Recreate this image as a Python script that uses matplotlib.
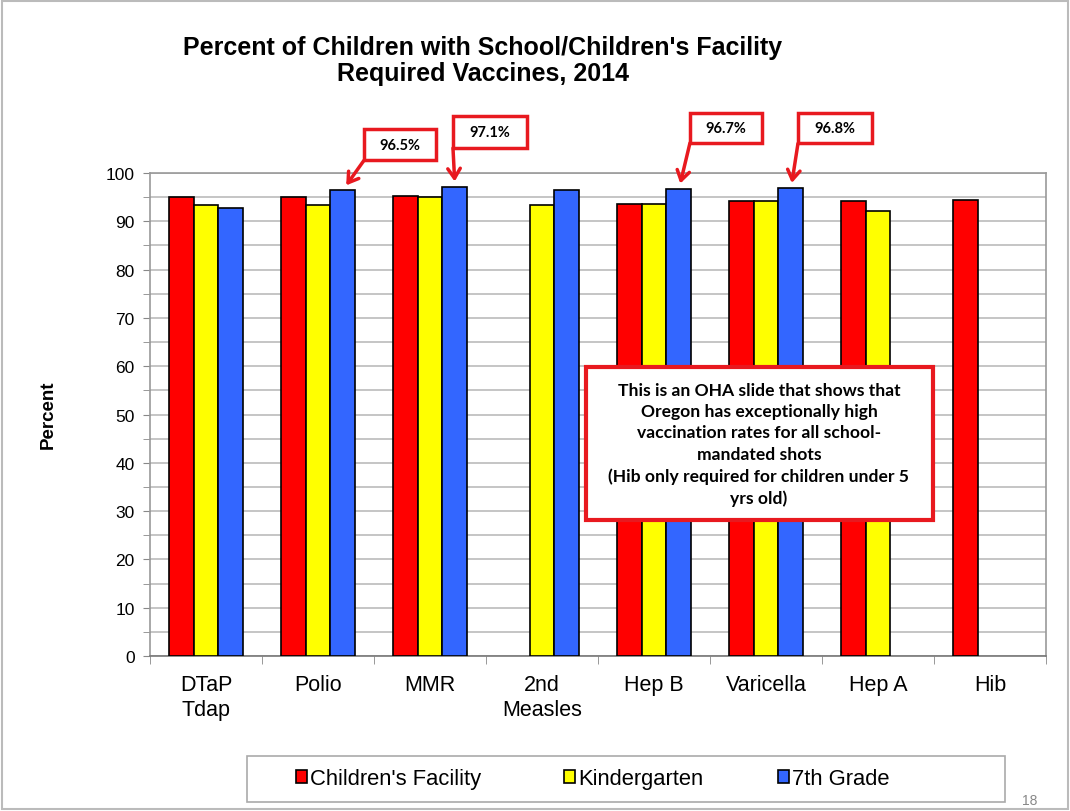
import numpy as np
import matplotlib.pyplot as plt
from matplotlib.patches import Rectangle

plt.rcParams['font.family'] = ['Liberation Sans', 'DejaVu Sans']

# data
categories = ['DTaP\nTdap', 'Polio', 'MMR', '2nd\nMeasles', 'Hep B', 'Varicella', 'Hep A', 'Hib']
series_names = ["Children's Facility", 'Kindergarten', '7th Grade']
childrens_facility = [95.0, 95.0, 95.2, np.nan, 93.6, 94.2, 94.2, 94.5]
kindergarten = [93.3, 93.3, 95.0, 93.3, 93.6, 94.3, 92.1, np.nan]
seventh_grade = [92.7, 96.5, 97.1, 96.5, 96.7, 96.8, np.nan, np.nan]
colors = ['#FF0000', '#FFFF00', '#3366FF']

# callouts: (category index, box offset px from bar top, box size px)
callouts = [(1, (57, 45), (72, 31)),
            (2, (35, 55), (74, 32)),
            (4, (47, 61), (72, 30)),
            (5, (44, 60), (74, 30))]

note = ("This is an OHA slide that shows that\nOregon has exceptionally high\n"
        "vaccination rates for all school-\nmandated shots\n"
        "(Hib only required for children under 5\nyrs old)")

W, H = 1070, 812
fig = plt.figure(figsize=(W / 100, H / 100), dpi=100)
ax = fig.add_axes([150 / W, 1 - 657 / H, 896 / W, 483 / H])

x = np.arange(len(categories))
bw = 0.223
all_series = [childrens_facility, kindergarten, seventh_grade]
bars = []
for i, vals in enumerate(all_series):
    b = ax.bar(x + (i - 1) * bw, vals, bw, color=colors[i], edgecolor='black',
               linewidth=1.2, label=series_names[i], zorder=3)
    bars.append(b)

ax.set_xlim(-0.5, len(categories) - 0.5)
ax.set_ylim(0, 100)
ax.set_yticks(np.arange(0, 101, 10))
ax.set_yticks(np.arange(5, 100, 10), minor=True)
ax.grid(axis='y', which='both', color='#BBBBBB', linewidth=1.2, zorder=0)
ax.tick_params(axis='y', which='both', length=5, color='#888888', labelsize=12.5, pad=6)
ax.set_xticks(x)
ax.set_xticklabels(categories, fontsize=15.5, linespacing=1.25)
ax.tick_params(axis='x', length=0, pad=13)
ax.set_xticks(np.arange(-0.5, len(categories), 1), minor=True)
ax.tick_params(axis='x', which='minor', length=6, color='#888888')
for s in ax.spines.values():
    s.set_color('#999999')
    s.set_linewidth(1.2)
ax.spines['bottom'].set_color('#777777')

fig.text(48 / W, 1 - 415 / H, 'Percent', rotation=90, fontsize=13.5,
         fontweight='bold', ha='center', va='center')
fig.text(483 / W, 1 - 61 / H,
         "Percent of Children with School/Children's Facility\nRequired Vaccines, 2014",
         fontsize=18, fontweight='bold', ha='center', va='center', linespacing=1.15)

# callout boxes with arrows pointing at the 7th grade bars
fig.canvas.draw()
for ci, (dx, dy), (bwid, bh) in callouts:
    v = seventh_grade[ci]
    px, py = ax.transData.transform((x[ci] + bw, v))
    cx, cy = px + dx, py + dy
    x0, y0 = cx - bwid / 2, cy - bh / 2
    fig.patches.append(Rectangle((x0 / W, y0 / H), bwid / W, bh / H,
                                 transform=fig.transFigure, facecolor='white',
                                 edgecolor='#E8191F', linewidth=2.5, zorder=5))
    fig.text(cx / W, cy / H, f'{v}%', fontsize=10.5, fontweight='bold',
             family='Lato', ha='center', va='center', zorder=6)
    ax.annotate('', xy=(x[ci] + bw, v), xycoords='data',
                xytext=(x0, y0), textcoords='figure pixels',
                arrowprops=dict(arrowstyle='->,head_width=0.45,head_length=0.7',
                                color='#E8191F', lw=2.5, shrinkA=0, shrinkB=4),
                annotation_clip=False, zorder=6)

# note box
fig.patches.append(Rectangle((586 / W, 1 - 521 / H), 347 / W, 153 / H,
                             transform=fig.transFigure, facecolor='white',
                             edgecolor='#E8191F', linewidth=3, zorder=5))
fig.text(759 / W, 1 - 445 / H, note, family='Lato', fontweight='bold', fontsize=12.6,
         ha='center', va='center', linespacing=1.42, zorder=6)

# legend: frame drawn separately, one entry per slot as on the slide
fig.patches.append(Rectangle((247 / W, 1 - 803 / H), 758 / W, 46 / H,
                             transform=fig.transFigure, facecolor='white',
                             edgecolor='#AAAAAA', linewidth=1.2))
for b, name, lx in zip(bars, series_names, [296, 564, 778]):
    fig.legend([b], [name], loc='center left', bbox_to_anchor=(lx / W, 1 - 780 / H),
               fontsize=15.8, frameon=False, handlelength=0.5, handleheight=0.5,
               handletextpad=0.15, borderpad=0, borderaxespad=0)

fig.text(1030 / W, 1 - 801 / H, '18', fontsize=10, color='#888888', ha='center', va='center')
fig.patches.append(Rectangle((0.002, 0.002), 0.996, 0.996, transform=fig.transFigure,
                             fill=False, edgecolor='#BBBBBB', linewidth=1.5))

fig.savefig('out.png', dpi=100)
